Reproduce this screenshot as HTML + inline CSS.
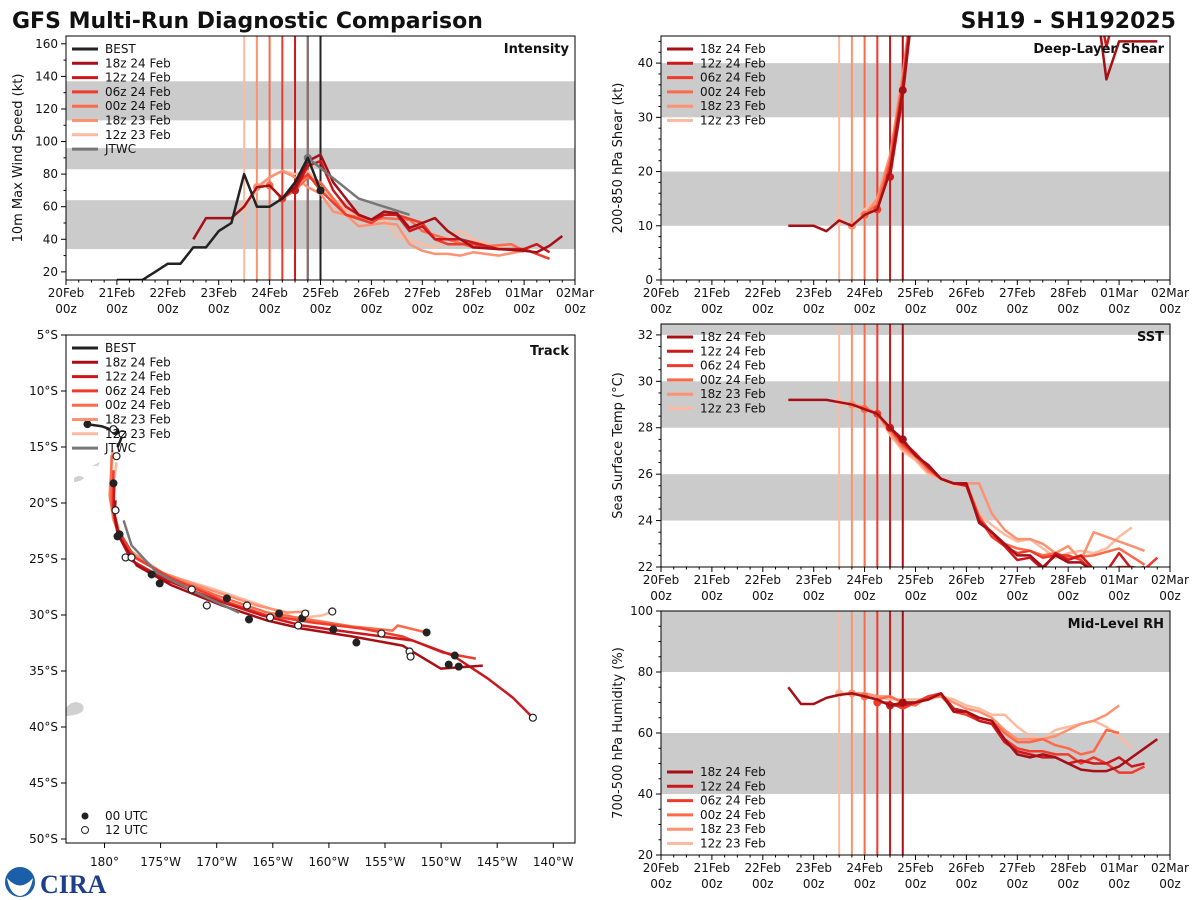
<!DOCTYPE html>
<html><head><meta charset="utf-8"><style>
body{margin:0;background:#fff;}
svg{display:block;font-family:"DejaVu Sans","Liberation Sans",sans-serif;}
</style></head><body>
<svg id="chart" width="1200" height="900" viewBox="0 0 1200 900">
<rect width="1200" height="900" fill="#fff"/>
<text x="12" y="28" font-size="22" font-weight="bold" fill="#111">GFS Multi-Run Diagnostic Comparison</text>
<text x="1176" y="28" font-size="22" font-weight="bold" fill="#111" text-anchor="end">SH19 - SH192025</text>
<g>
<circle cx="20" cy="882" r="15" fill="#1a5fa8"/>
<path d="M7 878 Q20 893 33 878 Q30 895 20 896 Q10 895 7 878Z" fill="#fff"/>
<text x="40" y="893" font-size="26" font-weight="bold" fill="#1d3f8a" font-family="Liberation Serif,serif">CIRA</text>
</g>
<g id="layer"></g>
</svg>
<script>
// ---------- DATA ----------
const runNames = ["18z 24 Feb","12z 24 Feb","06z 24 Feb","00z 24 Feb","18z 23 Feb","12z 23 Feb"];
const runInitHours = [114,108,102,96,90,84];
const dayLabels = ["20Feb","21Feb","22Feb","23Feb","24Feb","25Feb","26Feb","27Feb","28Feb","01Mar","02Mar"];

const bestIntH = [24,30,36,42,48,54,60,66,72,78,84,90,96,102,108,114,120];
const bestIntV = [15,15,15,20,25,25,35,35,45,50,80,60,60,65,75,90,70];
const jtwcIntH = [114,138,162];
const jtwcIntV = [90,65,55];
const int18z24H = [60,66,72,78,84,90,96,102,108,114,120,126,132,138,144,150,156,162,168,174,180,186,192,204,216,222,228,234];
const int18z24V = [40,53,53,53,60,72,73,65,72,88,92,75,65,55,52,57,56,47,50,53,45,40,35,34,33,32,36,42];
const int12z24H = [108,114,120,126,132,138,144,150,156,162,168,174,180,186,192,204,216,222,228];
const int12z24V = [70,85,88,70,60,55,52,55,55,45,48,40,40,40,38,34,34,37,32];
const int06z24H = [102,108,114,120,132,144,150,156,168,174,180,192,204,216,228];
const int06z24V = [65,73,80,70,55,50,55,55,50,40,37,37,34,34,28];
const int00z24H = [96,102,108,114,120,132,144,150,162,168,180,192,210,216];
const int00z24V = [73,65,70,78,75,55,52,53,52,45,40,35,37,33];
const int18z23H = [90,96,102,108,114,120,126,132,138,144,150,156,162,168,174,180,186,192,204,216];
const int18z23V = [72,78,82,78,72,68,57,55,48,49,50,49,37,33,31,31,30,32,30,33];
const int12z23H = [84,90,96,102,108,114,120,132,144,150,156,162,168,174,180,186,192,204,216];
const int12z23V = [60,70,78,82,80,82,72,58,52,52,42,40,37,35,42,45,40,35,32];

const shr18z24H = [60,66,72,78,84,90,96,102,108,114,120,204,210,216,228,234];
const shr18z24V = [10,10,10,9,11,10,12,13,20,35,55,55,37,44,44,44];
const shr12z24H = [108,114,120,204,210,216];
const shr12z24V = [19,34,55,55,43,52];
const shr06z24H = [102,108,114,120];
const shr06z24V = [13,21,36,56];
const shr00z24H = [96,102,108,114,120];
const shr00z24V = [12,14,22,37,56];
const shr18z23H = [90,96,102,108,114,120];
const shr18z23V = [10,12,15,23,38,57];
const shr12z23H = [84,90,96,102,108,114,120];
const shr12z23V = [11,10,13,15,22,36,55];

const sst18z24H = [60,66,72,78,84,90,96,102,108,114,120,126,132,138,144,150,156,162,168,174,180,186,192,198,204,210,216];
const sst18z24V = [29.2,29.2,29.2,29.2,29.1,29.0,28.8,28.6,28.0,27.5,26.8,26.4,25.8,25.6,25.6,23.9,23.5,23.0,22.5,22.5,22.0,22.5,22.2,22.2,21.8,21.9,21.7];
const sst12z24H = [108,114,120,126,132,138,144,150,156,162,168,174,180,186,192,198,204,210,216,222,228];
const sst12z24V = [28.0,27.4,26.9,26.3,25.8,25.6,25.5,24.0,23.5,22.9,22.3,22.4,21.9,22.6,22.3,22.5,21.9,21.8,22.6,21.9,22.0];
const sst06z24H = [102,108,114,120,126,132,138,144,150,156,162,168,174,180,186,192,198,204,216,222,228,234];
const sst06z24V = [28.6,28.0,27.3,26.8,26.3,25.8,25.6,25.6,24.1,23.3,22.9,22.6,22.7,22.4,22.5,22.5,22.3,21.8,22.0,22.0,21.9,22.4];
const sst00z24H = [96,102,108,114,120,126,132,138,144,150,156,162,168,174,180,186,192,204,216,228];
const sst00z24V = [28.8,28.6,27.9,27.2,26.8,26.2,25.8,25.6,25.6,24.2,23.4,23.0,22.8,22.7,22.5,22.6,22.4,22.5,22.8,22.1];
const sst18z23H = [90,96,102,108,114,120,126,132,138,144,150,156,162,168,174,180,186,192,198,204,210,216,222,228];
const sst18z23V = [29.0,28.9,28.6,27.8,27.1,26.7,26.1,25.8,25.6,25.6,25.6,24.3,23.6,23.2,23.2,23.0,22.6,22.9,22.3,23.5,23.3,23.1,22.9,22.7];
const sst12z23H = [84,90,96,102,108,114,120,126,132,138,144,150,156,162,168,174,180,186,192,198,204,210,216,222];
const sst12z23V = [29.1,28.9,28.8,28.6,27.7,27.0,26.6,26.0,25.8,25.5,25.5,24.3,23.8,23.4,23.1,23.2,22.8,22.4,22.6,22.7,22.6,22.8,23.3,23.7];

const rh18z24H = [60,66,72,78,84,90,96,102,108,114,120,126,132,138,144,150,156,162,168,174,180,186,192,198,204,210,216,222,228,234];
const rh18z24V = [75,69.5,69.5,71.5,72.5,73,72,71,69,70,70,71,73,67,67,65,64,58,53,52,53,52,50,48,47.5,47.5,49,52,55,58];
const rh12z24H = [108,114,120,126,132,138,144,150,156,162,168,174,180,186,192,198,204,210,216,222,228];
const rh12z24V = [69,69,70,71,73,68,67,64,63,57,54,53,52,52,50,51,50,50,52,49,50];
const rh06z24H = [102,108,114,120,126,132,138,144,150,156,162,168,174,180,186,192,198,204,210,216,222,228];
const rh06z24V = [70,70,68,70,72,73,67,66,64,63,58,55,54,54,53,53,50,52,50,47,47,49];
const rh00z24H = [96,102,108,114,120,126,132,138,144,150,156,162,168,174,180,186,192,198,204,210,216];
const rh00z24V = [72,71,72,70,69,72,72,68,67,65,64,60,57,57,58,56,55,53,54,61,60];
const rh18z23H = [90,96,102,108,114,120,126,132,138,144,150,156,162,168,174,180,186,192,198,204,210,216];
const rh18z23V = [73,73,72,72,70,70,72,72,70,68,67,65,61,58,58,58,59,61,63,64,66,69];
const rh12z23H = [84,90,96,102,108,114,120,126,132,138,144,150,156,162,168,174,180,186,192,198,204,210,216,222];
const rh12z23V = [73,73,73,72,71,71,71,71,72,71,69,68,66,66,62,59,58,61,62,63,64,62,59,55];

// track (longitude in deg E, latitude in deg S)
const trkBestLon = [178.48,179.73,180.98,181.61,181.43,181.16];
const trkBestLat = [12.96,13.14,13.59,13.86,14.39,15.02];
const trkJtwcLon = [181.70,182.41,184.65,187.78,192.0];
const trkJtwcLat = [21.55,23.78,26.20,27.81,29.8];
const trk18z24Lon = [180.98,180.89,181.25,182.86,185.99,190.47,194.49,197.62,202.09,206.56,209.96,213.72];
const trk18z24Lat = [19.76,21.10,22.89,25.57,27.36,29.15,30.49,31.21,31.92,32.73,34.79,34.52];
const trk12z24Lon = [180.89,180.80,181.16,182.41,185.55,190.02,194.04,197.62,202.09,207.46,211.04,214.17,216.40,218.18];
const trk12z24Lat = [17.97,20.65,22.71,25.13,26.91,28.70,30.04,30.94,31.56,32.28,33.62,35.68,37.38,39.17];
const trk06z24Lon = [180.80,180.72,181.25,182.68,185.99,190.47,194.49,198.52,202.99,206.56,210.14,213.09];
const trk06z24Lat = [17.08,20.21,22.44,24.86,26.73,28.70,30.04,30.67,31.21,31.92,33.35,33.89];
const trk00z24Lon = [180.63,180.54,180.98,182.24,185.55,190.02,194.49,197.62,202.09,205.67,206.12,208.71];
const trk00z24Lat = [15.73,19.76,21.99,24.50,26.47,28.26,29.78,30.31,31.03,31.39,30.94,31.56];
const trk18z23Lon = [180.72,180.45,180.80,181.97,185.10,189.57,193.60,196.28,198.25];
const trk18z23Lat = [15.29,19.31,21.55,24.05,26.20,27.81,29.15,29.78,29.69];
const trk12z23Lon = [181.07,180.63,180.98,182.15,185.10,189.57,194.04,197.17,199.41,200.30];
const trk12z23Lat = [16.36,19.76,21.99,24.23,26.29,27.63,29.15,30.31,30.04,29.69];
const dot00Lon = [178.48,180.98,180.80,181.16,181.34,184.20,184.92,190.91,192.88,195.56,197.62,200.39,202.45,208.71,210.68,211.57,211.22];
const dot00Lat = [12.96,13.59,18.24,22.98,22.80,26.38,27.18,28.52,30.40,29.87,30.28,31.30,32.46,31.56,34.43,34.61,33.62];
const dot12Lon = [180.80,181.61,181.07,180.98,181.88,182.41,187.78,189.12,192.70,194.76,197.26,197.89,200.30,204.68,207.19,207.28,218.18];
const dot12Lat = [13.41,13.86,15.82,20.65,24.86,24.86,27.72,29.15,29.15,30.22,30.94,29.87,29.69,31.65,33.26,33.71,39.17];
const latTicks = [5,10,15,20,25,30,35,40,45,50];
const lonTicks = [180,185,190,195,200,205,210,215,220];

// ---------- DRAWING ----------
const NS = "http://www.w3.org/2000/svg";
const layer = document.getElementById("layer");
const runColors = ["#a50f15","#cb181d","#ef3b2c","#fb6a4a","#fc9272","#fcbba1"];
function mk(tag, attrs, parent){
  const e = document.createElementNS(NS, tag);
  for (const k in attrs) e.setAttribute(k, attrs[k]);
  (parent||layer).appendChild(e);
  return e;
}
function txt(s, x, y, size, anchor, parent, weight){
  const t = mk("text", {x:x, y:y, "font-size":size, "text-anchor":anchor||"start", fill:"#111"}, parent);
  if (weight) t.setAttribute("font-weight", weight);
  t.textContent = s;
  return t;
}

function timePanel(cfg){
  const g = mk("g", {});
  
  
  const X = h => cfg.x0 + h/240*(cfg.x1-cfg.x0);
  const Y = v => cfg.y1 - (v-cfg.vmin)/(cfg.vmax-cfg.vmin)*(cfg.y1-cfg.y0);
  const clipId = cfg.name + "-clip";
  const cp = mk("clipPath", {id:clipId}, g);
  mk("rect", {x:cfg.x0, y:cfg.y0, width:cfg.x1-cfg.x0, height:cfg.y1-cfg.y0}, cp);
  const plot = mk("g", {"clip-path":"url(#"+clipId+")"}, g);
  cfg.bands.forEach(b => {
    const r = mk("rect", {x:cfg.x0, y:Y(b[1]), width:cfg.x1-cfg.x0, height:Y(b[0])-Y(b[1]), fill:"#cbcbcb"}, plot);
    
    
  });
  cfg.vlines.forEach(v => {
    const l = mk("line", {x1:X(v[0]), x2:X(v[0]), y1:cfg.y0, y2:cfg.y1, stroke:v[1], "stroke-width":2}, plot);
    
    
  });
  cfg.series.forEach(s => {
    const pts = s.h.map((h,i)=>X(h).toFixed(1)+","+Y(s.v[i]).toFixed(1)).join(" ");
    const p = mk("polyline", {points:pts, fill:"none", stroke:s.color, "stroke-width":2.5, "stroke-linejoin":"round"}, plot);
    
    
    if (s.dot){
      const c = mk("circle", {cx:X(s.h[s.dotIdx||0]), cy:Y(s.v[s.dotIdx||0]), r:4, fill:s.color}, plot);
      
      
    }
  });
  mk("rect", {x:cfg.x0, y:cfg.y0, width:cfg.x1-cfg.x0, height:cfg.y1-cfg.y0, fill:"none", stroke:"#000", "stroke-width":1}, g);
  for (let h=0; h<=240; h+=6){
    const major = h%24===0;
    mk("line", {x1:X(h), x2:X(h), y1:cfg.y1, y2:cfg.y1+(major?5:2.5), stroke:"#000"}, g);
    if (major){
      const t1 = txt(dayLabels[h/24], X(h), cfg.y1+17, 12, "middle", g);
      
      
      const t2 = txt("00z", X(h), cfg.y1+33, 12, "middle", g);
      
      
    }
  }
  for (let v=cfg.minorStart; v<=cfg.vmax+1e-6; v+=cfg.minor){
    if (v < cfg.vmin-1e-6) continue;
    const isMaj = Math.abs(((v-cfg.majorStart)/cfg.major) - Math.round((v-cfg.majorStart)/cfg.major))<1e-6 && v>=cfg.majorStart-1e-6;
    mk("line", {x1:cfg.x0-(isMaj?5:2.5), x2:cfg.x0, y1:Y(v), y2:Y(v), stroke:"#000"}, g);
    if (isMaj){
      const t = txt(String(Math.round(v)), cfg.x0-8, Y(v)+4, 12, "end", g);
      
      
    }
  }
  const yt = txt(cfg.ylabel, 0, 0, 13, "middle", g);
  yt.setAttribute("transform", "translate("+cfg.ylx+","+((cfg.y0+cfg.y1)/2)+") rotate(-90)");
  
  
  const pt = txt(cfg.title, cfg.x1-6, cfg.y0+17, 13, "end", g, "bold");
  
  
  legend(g, cfg.legend, cfg.x0+6, cfg.legendY);
}
function legend(g, items, x, y){
  const lg = mk("g", {}, g);
  
  
  items.forEach((it,i)=>{
    const yy = y + i*14.3;
    const l = mk("line", {x1:x, x2:x+26, y1:yy, y2:yy, stroke:it[1], "stroke-width":3}, lg);
    
    
    const t = txt(it[0], x+33, yy+4, 12, "start", lg);
    
    
  });
}

const runLegend = runNames.map((n,i)=>[n, runColors[i]]);
const vlinesRuns = runInitHours.map((h,i)=>[h, runColors[i]]).reverse();

// Intensity
timePanel({name:"intensity-panel", x0:66, x1:575, y0:36, y1:280, vmin:15, vmax:164.8,
  major:20, majorStart:20, minor:10, minorStart:20, bands:[[34,64],[83,96],[113,137]],
  vlines: vlinesRuns.concat([[114,"#777"],[120,"#222"]]),
  series:[
    {h:int12z23H, v:int12z23V, color:runColors[5], label:"intensity-12z23", dot:true},
    {h:int18z23H, v:int18z23V, color:runColors[4], label:"intensity-18z23", dot:true},
    {h:int00z24H, v:int00z24V, color:runColors[3], label:"intensity-00z24", dot:true},
    {h:int06z24H, v:int06z24V, color:runColors[2], label:"intensity-06z24", dot:true},
    {h:int12z24H, v:int12z24V, color:runColors[1], label:"intensity-12z24", dot:true},
    {h:int18z24H, v:int18z24V, color:runColors[0], label:"intensity-18z24"},
    {h:jtwcIntH, v:jtwcIntV, color:"#777", label:"intensity-jtwc", dot:true},
    {h:bestIntH, v:bestIntV, color:"#222", label:"intensity-best", dot:true, dotIdx:16}
  ],
  ylabel:"10m Max Wind Speed (kt)", ylx:22, title:"Intensity",
  legend:[["BEST","#222"]].concat(runLegend).concat([["JTWC","#777"]]), legendY:49});

// Shear
timePanel({name:"shear-panel", x0:661, x1:1170, y0:36, y1:280, vmin:0, vmax:45,
  major:10, majorStart:0, minor:2, minorStart:0, bands:[[10,20],[30,40]],
  vlines: vlinesRuns,
  series:[
    {h:shr12z23H, v:shr12z23V, color:runColors[5], label:"shear-12z23", dot:true},
    {h:shr18z23H, v:shr18z23V, color:runColors[4], label:"shear-18z23", dot:true},
    {h:shr00z24H, v:shr00z24V, color:runColors[3], label:"shear-00z24", dot:true},
    {h:shr06z24H, v:shr06z24V, color:runColors[2], label:"shear-06z24", dot:true},
    {h:shr12z24H, v:shr12z24V, color:runColors[1], label:"shear-12z24", dot:true},
    {h:shr18z24H, v:shr18z24V, color:runColors[0], label:"shear-18z24", dot:true, dotIdx:9}
  ],
  ylabel:"200-850 hPa Shear (kt)", ylx:622, title:"Deep-Layer Shear",
  legend:runLegend, legendY:49});

// SST
timePanel({name:"sst-panel", x0:661, x1:1170, y0:324, y1:567, vmin:22, vmax:32.47,
  major:2, majorStart:22, minor:0.5, minorStart:22, bands:[[24,26],[28,30],[32,34]],
  vlines: vlinesRuns,
  series:[
    {h:sst12z23H, v:sst12z23V, color:runColors[5], label:"sst-12z23", dot:true},
    {h:sst18z23H, v:sst18z23V, color:runColors[4], label:"sst-18z23", dot:true},
    {h:sst00z24H, v:sst00z24V, color:runColors[3], label:"sst-00z24", dot:true},
    {h:sst06z24H, v:sst06z24V, color:runColors[2], label:"sst-06z24", dot:true},
    {h:sst12z24H, v:sst12z24V, color:runColors[1], label:"sst-12z24", dot:true},
    {h:sst18z24H, v:sst18z24V, color:runColors[0], label:"sst-18z24", dot:true, dotIdx:9}
  ],
  ylabel:"Sea Surface Temp (°C)", ylx:622, title:"SST",
  legend:runLegend, legendY:337});

// RH
timePanel({name:"rh-panel", x0:661, x1:1170, y0:611, y1:855, vmin:20, vmax:100,
  major:20, majorStart:20, minor:5, minorStart:20, bands:[[40,60],[80,100]],
  vlines: vlinesRuns,
  series:[
    {h:rh12z23H, v:rh12z23V, color:runColors[5], label:"rh-12z23", dot:true},
    {h:rh18z23H, v:rh18z23V, color:runColors[4], label:"rh-18z23", dot:true},
    {h:rh00z24H, v:rh00z24V, color:runColors[3], label:"rh-00z24", dot:true},
    {h:rh06z24H, v:rh06z24V, color:runColors[2], label:"rh-06z24", dot:true},
    {h:rh12z24H, v:rh12z24V, color:runColors[1], label:"rh-12z24", dot:true},
    {h:rh18z24H, v:rh18z24V, color:runColors[0], label:"rh-18z24", dot:true, dotIdx:9}
  ],
  ylabel:"700-500 hPa Humidity (%)", ylx:622, title:"Mid-Level RH",
  legend:runLegend, legendY:772});

// Track
(function(){
  const x0=66, x1=575, y0=335, y1=843;
  const LX = lon => 104.5 + (lon-180)*11.22;
  const LY = lat => 335 + (lat-5)*11.2;
  const g = mk("g", {});
  
  
  const cp = mk("clipPath", {id:"trk-clip"}, g);
  mk("rect", {x:x0, y:y0, width:x1-x0, height:y1-y0}, cp);
  const plot = mk("g", {"clip-path":"url(#trk-clip)"}, g);
  const land = mk("path", {d:"M66 708 Q72 700 80 703 Q86 706 82 712 Q74 716 66 716Z M74 478 Q80 474 84 478 Q80 482 74 482Z M92 466 L100 462 L98 466Z", fill:"#d0d0d0"}, plot);
  
  
  const tracks = [
    [trk12z23Lon,trk12z23Lat,runColors[5],"track-12z23"],
    [trk18z23Lon,trk18z23Lat,runColors[4],"track-18z23"],
    [trk00z24Lon,trk00z24Lat,runColors[3],"track-00z24"],
    [trk06z24Lon,trk06z24Lat,runColors[2],"track-06z24"],
    [trk12z24Lon,trk12z24Lat,runColors[1],"track-12z24"],
    [trk18z24Lon,trk18z24Lat,runColors[0],"track-18z24"],
    [trkJtwcLon,trkJtwcLat,"#777","track-jtwc"],
    [trkBestLon,trkBestLat,"#222","track-best"]
  ];
  tracks.forEach(t=>{
    const pts = t[0].map((lo,i)=>LX(lo).toFixed(1)+","+LY(t[1][i]).toFixed(1)).join(" ");
    const p = mk("polyline", {points:pts, fill:"none", stroke:t[2], "stroke-width":2.5, "stroke-linejoin":"round"}, plot);
    
    
  });
  dot00Lon.forEach((lo,i)=>{
    const c = mk("circle", {cx:LX(lo), cy:LY(dot00Lat[i]), r:4, fill:"#222"}, plot);
    
    
  });
  dot12Lon.forEach((lo,i)=>{
    const c = mk("circle", {cx:LX(lo), cy:LY(dot12Lat[i]), r:3.5, fill:"#fff", stroke:"#222", "stroke-width":1.2}, plot);
    
    
  });
  mk("rect", {x:x0, y:y0, width:x1-x0, height:y1-y0, fill:"none", stroke:"#000"}, g);
  latTicks.forEach(la=>{
    mk("line", {x1:x0-5, x2:x0, y1:LY(la), y2:LY(la), stroke:"#000"}, g);
    const t = txt(la+"°S", x0-8, LY(la)+4, 12, "end", g);
    
    
  });
  lonTicks.forEach(lo=>{
    mk("line", {x1:LX(lo), x2:LX(lo), y1:y1, y2:y1+5, stroke:"#000"}, g);
    const lab = lo===180 ? "180°" : (360-lo)+"°W";
    const t = txt(lab, LX(lo), y1+23, 12, "middle", g);
    
    
  });
  const pt = txt("Track", x1-6, y0+20, 13, "end", g, "bold");
  
  
  legend(g, [["BEST","#222"]].concat(runLegend).concat([["JTWC","#777"]]), 72, 348);
  const lg = mk("g", {}, g);
  
  
  const c1 = mk("circle", {cx:85, cy:816, r:3.5, fill:"#222"}, lg);
  
  
  const t1 = txt("00 UTC", 105, 820, 12, "start", lg);
  
  
  const c2 = mk("circle", {cx:85, cy:830, r:3.5, fill:"#fff", stroke:"#222"}, lg);
  
  
  const t2 = txt("12 UTC", 105, 834, 12, "start", lg);
  
  
})();
</script>
</body></html>
